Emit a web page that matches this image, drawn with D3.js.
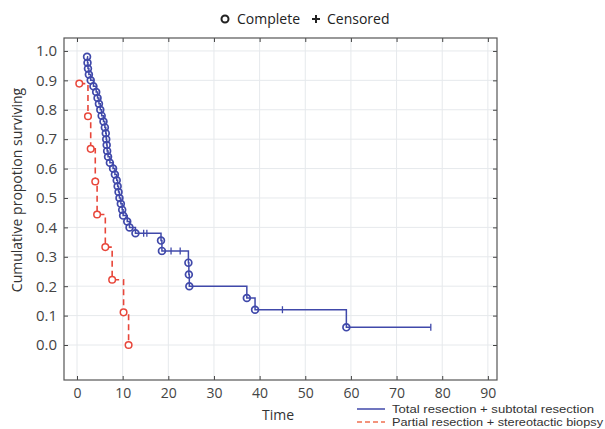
<!DOCTYPE html>
<html><head><meta charset="utf-8">
<script src="https://cdn.jsdelivr.net/npm/d3@7/dist/d3.min.js"></script>
<style>
html,body{margin:0;padding:0;background:#fff;}
text{font-family:"Open Sans",Lato,sans-serif;}
</style></head>
<body><svg id="c" width="605" height="429"></svg>
<script>
// ---- data ----
const xTicks = [0,10,20,30,40,50,60,70,80,90];
const yTicks = [0,0.1,0.2,0.3,0.4,0.5,0.6,0.7,0.8,0.9,1.0];

// Total resection + subtotal resection: event times and survival after each event
const blueTimes = [2.2,2.3,2.4,2.6,3.0,3.6,4.2,4.5,4.8,5.1,5.4,5.8,6.1,6.3,6.4,6.5,6.6,6.8,7.2,7.9,8.3,8.7,8.9,9.1,9.3,9.6,9.9,10.1,11.0,11.5,12.8,18.4,18.6,24.4,24.5,24.6,37.2,39.0,59.0];
const blueSurv  = [0.98,0.96,0.94,0.92,0.90,0.88,0.86,0.84,0.82,0.80,0.78,0.76,0.74,0.72,0.70,0.68,0.66,0.64,0.62,0.60,0.58,0.56,0.54,0.52,0.50,0.48,0.46,0.44,0.42,0.40,0.38,0.355,0.32,0.28,0.24,0.20,0.16,0.12,0.06];
const blueCensTimes = [14.6,15.3,20.6,22.6,45.0,77.5];
const blueEnd = 77.5;

// Partial resection + stereotactic biopsy
const redTimes = [0.5,2.4,3.0,4.0,4.4,6.2,7.7,10.2,11.3];
const redSurv  = [0.889,0.778,0.667,0.556,0.444,0.333,0.222,0.111,0.0];

const seriesNames = ["Total resection + subtotal resection","Partial resection + stereotactic biopsy"];
const colors = ["#4049aa","#e8463a"];

// ---- chart ----
const svg = d3.select("#c");
const L=64,R=497,T=38,B=380;
const x = d3.scaleLinear().domain([-2.85,92]).range([L,R]);
const y = d3.scaleLinear().domain([-0.119,1.044]).range([B,T]);

// grid
svg.append("g").selectAll("line.gx").data(xTicks).join("line")
  .attr("x1",d=>x(d)).attr("x2",d=>x(d)).attr("y1",T).attr("y2",B)
  .attr("stroke","#e6e9ec").attr("stroke-width",1);
svg.append("g").selectAll("line.gy").data(yTicks).join("line")
  .attr("x1",L).attr("x2",R).attr("y1",d=>y(d)).attr("y2",d=>y(d))
  .attr("stroke","#e6e9ec").attr("stroke-width",1);

// axes
const fmt = d3.format(".1f");
const gx = svg.append("g").attr("transform",`translate(0,${B})`)
  .call(d3.axisBottom(x).tickValues(xTicks).tickSizeInner(-4).tickSizeOuter(0).tickPadding(8));
const gxt = svg.append("g").attr("transform",`translate(0,${T})`)
  .call(d3.axisTop(x).tickValues(xTicks).tickSizeInner(-4).tickSizeOuter(0).tickFormat(""));
const gy = svg.append("g").attr("transform",`translate(${L},0)`)
  .call(d3.axisLeft(y).tickValues(yTicks).tickFormat(fmt).tickSizeInner(-4).tickSizeOuter(0).tickPadding(7));
const gyr = svg.append("g").attr("transform",`translate(${R},0)`)
  .call(d3.axisRight(y).tickValues(yTicks).tickSizeInner(-4).tickSizeOuter(0).tickFormat(""));
[gx,gxt,gy,gyr].forEach(g=>{
  g.select(".domain").remove();
  g.selectAll(".tick line").attr("stroke","#444");
  g.selectAll(".tick text").attr("fill","#444").style("font-family","'Open Sans',Lato,sans-serif");
});
gy.selectAll(".tick text").style("font-size","15px");
gx.selectAll(".tick text").style("font-size","14px");
svg.append("rect").attr("x",L).attr("y",T).attr("width",R-L).attr("height",B-T)
  .attr("fill","none").attr("stroke","#555").attr("stroke-width",1.2);

// axis titles
svg.append("text").attr("x",278).attr("y",420).attr("text-anchor","middle")
  .attr("fill","#333").style("font-size","14px").text("Time");
svg.append("text").attr("transform","translate(22,190) rotate(-90)").attr("text-anchor","middle")
  .attr("fill","#333").style("font-size","14px").text("Cumulative propotion surviving");

// step path builder
function stepPts(times,surv,end){
  const pts=[[times[0],surv[0]]];
  for(let i=1;i<times.length;i++){
    pts.push([times[i],surv[i-1]]);
    pts.push([times[i],surv[i]]);
  }
  if(end!==undefined) pts.push([end,surv[surv.length-1]]);
  return pts;
}
const line = d3.line().x(d=>x(d[0])).y(d=>y(d[1]));

// red series
svg.append("path").attr("d",line(stepPts(redTimes,redSurv,redTimes[redTimes.length-1])))
  .attr("fill","none").attr("stroke",colors[1]).attr("stroke-width",1.6).attr("stroke-dasharray","6,4");
svg.append("g").selectAll("circle").data(redTimes.map((t,i)=>[t,redSurv[i]])).join("circle")
  .attr("cx",d=>x(d[0])).attr("cy",d=>y(d[1])).attr("r",3.3)
  .attr("fill","#fff").attr("stroke",colors[1]).attr("stroke-width",1.5);

// blue series
svg.append("path").attr("d",line(stepPts(blueTimes,blueSurv,blueEnd)))
  .attr("fill","none").attr("stroke",colors[0]).attr("stroke-width",1.5);
svg.append("g").selectAll("circle").data(blueTimes.map((t,i)=>[t,blueSurv[i]])).join("circle")
  .attr("cx",d=>x(d[0])).attr("cy",d=>y(d[1])).attr("r",3.4)
  .attr("fill","none").attr("stroke",colors[0]).attr("stroke-width",1.7);
// censored marks
function survAt(t){let s=1;for(let i=0;i<blueTimes.length;i++){if(blueTimes[i]<=t)s=blueSurv[i];}return s;}
svg.append("g").selectAll("line").data(blueCensTimes).join("line")
  .attr("x1",d=>x(d)).attr("x2",d=>x(d))
  .attr("y1",d=>y(survAt(d))-3.5).attr("y2",d=>y(survAt(d))+3.5)
  .attr("stroke",colors[0]).attr("stroke-width",1.3);

// top legend
svg.append("circle").attr("cx",225).attr("cy",19).attr("r",3.5).attr("fill","none").attr("stroke","#222").attr("stroke-width",2);
svg.append("text").attr("x",237).attr("y",24).attr("fill","#222").style("font-size","14px").text("Complete");
svg.append("path").attr("d","M312,19H320M316,15V23").attr("stroke","#222").attr("stroke-width",2);
svg.append("text").attr("x",327).attr("y",24).attr("fill","#222").style("font-size","14px").text("Censored");

// bottom legend
const lg = svg.append("g");
seriesNames.forEach((n,i)=>{
  const yy = 409 + i*13;
  lg.append("line").attr("x1",357).attr("x2",385).attr("y1",yy).attr("y2",yy)
    .attr("stroke",i===0?colors[0]:"#f07050").attr("stroke-width",1.5)
    .attr("stroke-dasharray",i===0?null:"5,3");
  lg.append("text").attr("x",392).attr("y",yy+4).attr("fill","#333")
    .style("font-family","'Liberation Sans',Arial,sans-serif")
    .style("font-size","11.5px").attr("textLength",i===0?202:211).attr("lengthAdjust","spacingAndGlyphs").text(n);
});
</script>
</body></html>
